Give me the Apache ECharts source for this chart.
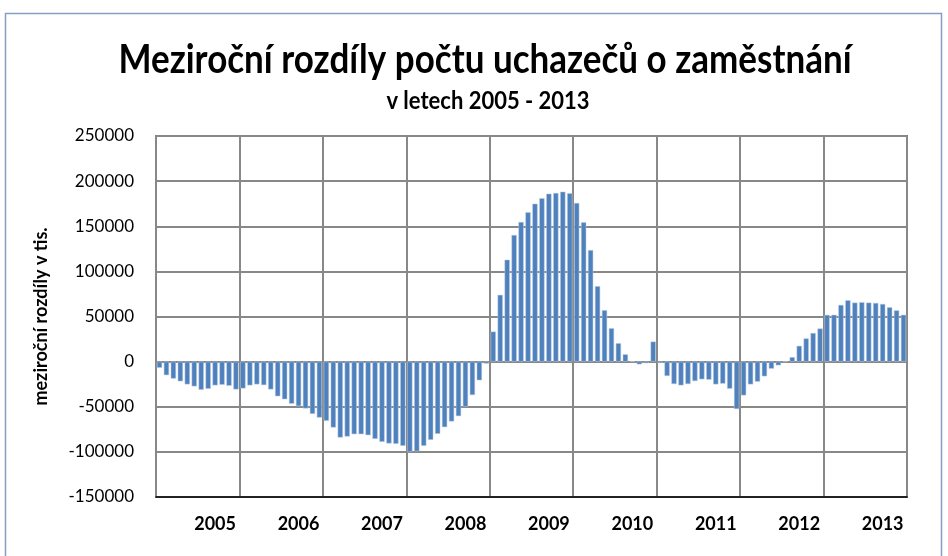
<!DOCTYPE html>
<html>
<head>
<meta charset="utf-8">
<script src="https://cdn.jsdelivr.net/npm/echarts@6/dist/echarts.min.js"></script>
<style>
  html, body { margin: 0; padding: 0; background: #fff; }
  #chart { width: 948px; height: 556px; }
</style>
</head>
<body>
<div id="chart"></div>
<script>
// meziroční rozdíly, měsíčně, 9 let po 12 měsících
var years = ['2005', '2006', '2007', '2008', '2009', '2010', '2011', '2012', '2013'];

var diff2005 = [-6800, -15000, -18800, -21800, -25200, -27400, -31200, -30100, -26300, -25600, -26700, -30800];
var diff2006 = [-29700, -26300, -25200, -26000, -30800, -38400, -41700, -46600, -49300, -51900, -57900, -62000];
var diff2007 = [-65600, -73000, -84100, -83000, -80400, -80400, -81500, -85600, -88900, -90700, -91100, -93300];
var diff2008 = [-100000, -99300, -93300, -86700, -80000, -72600, -66300, -60400, -50000, -37000, -20700, -2200];
var diff2009 = [33300, 74000, 112900, 140300, 154700, 165400, 175000, 181000, 186100, 186900, 188300, 186500];
var diff2010 = [175800, 154300, 123600, 83600, 57000, 37000, 20400, 8100, 0, -3000, -1800, 22200];
var diff2011 = [-1500, -15900, -24800, -26300, -24800, -21500, -19600, -20000, -25200, -24400, -30000, -52500];
var diff2012 = [-37400, -25200, -22200, -16300, -7800, -4100, 0, 5000, 17500, 25700, 31700, 36700];
var diff2013 = [51800, 51900, 62800, 68000, 65400, 65800, 65400, 65000, 63900, 60200, 56800, 51900];

var yTicks = [-150000, -100000, -50000, 0, 50000, 100000, 150000, 200000, 250000];

var values = [].concat(diff2005, diff2006, diff2007, diff2008, diff2009,
                       diff2010, diff2011, diff2012, diff2013);
var months = [];
for (var i = 0; i < values.length; i++) {
  months.push(years[Math.floor(i / 12)] + '-' + (i % 12 + 1));
}

var font = 'Lato, "Open Sans", sans-serif';
var myChart = echarts.init(document.getElementById('chart'));
var option = {
  animation: false,
  backgroundColor: '#fff',
  graphic: [{
    type: 'rect',
    shape: { x: 5.5, y: 13.5, width: 936, height: 560 },
    style: { fill: 'none', stroke: '#86a0c4', lineWidth: 1.5 },
    silent: true
  }, {
    type: 'text',
    x: 485, y: 60, scaleY: 1.15,
    style: {
      text: 'Meziroční rozdíly počtu uchazečů o zaměstnání',
      font: 'bold 35px ' + font, fill: '#000',
      align: 'center', verticalAlign: 'middle'
    }
  }, {
    type: 'text',
    x: 488, y: 101, scaleY: 1.15,
    style: {
      text: 'v letech 2005 - 2013',
      font: 'bold 22px ' + font, fill: '#000',
      align: 'center', verticalAlign: 'middle'
    }
  }],
  grid: {
    left: 156, top: 136, right: 41, bottom: 59,
    show: true, borderColor: '#000', borderWidth: 1.5
  },
  xAxis: {
    type: 'category',
    data: months,
    boundaryGap: true,
    axisLine: { show: true, onZero: false, lineStyle: { color: '#000', width: 1.5 } },
    axisTick: { show: false },
    axisLabel: {
      interval: function (index) { return index % 12 === 8; },
      formatter: function (v) { return v.split('-')[0]; },
      fontFamily: font, fontWeight: 'bold', fontSize: 18, color: '#000', margin: 18
    },
    splitLine: {
      show: true,
      interval: function (index) { return index % 12 === 0; },
      lineStyle: { color: '#888', width: 2 }
    }
  },
  yAxis: {
    type: 'value',
    min: yTicks[0], max: yTicks[yTicks.length - 1], interval: 50000,
    name: 'meziroční rozdíly v tis.',
    nameLocation: 'middle', nameRotate: 90, nameGap: 106,
    nameTextStyle: { fontFamily: font, fontWeight: 'bold', fontSize: 18, color: '#000' },
    axisLine: { show: true, lineStyle: { color: '#888', width: 2 } },
    axisTick: { show: false },
    axisLabel: {
      fontFamily: font, fontSize: 17, color: '#000', margin: 22,
      formatter: function (v) { return String(v); }
    },
    splitLine: { show: true, lineStyle: { color: '#888', width: 2 } }
  },
  series: [{
    type: 'bar',
    data: values,
    barCategoryGap: '25%',
    itemStyle: { color: '#4f81bd', borderColor: '#b8cce4', borderWidth: 0.5 }
  }]
};
myChart.setOption(option);
</script>
</body>
</html>
